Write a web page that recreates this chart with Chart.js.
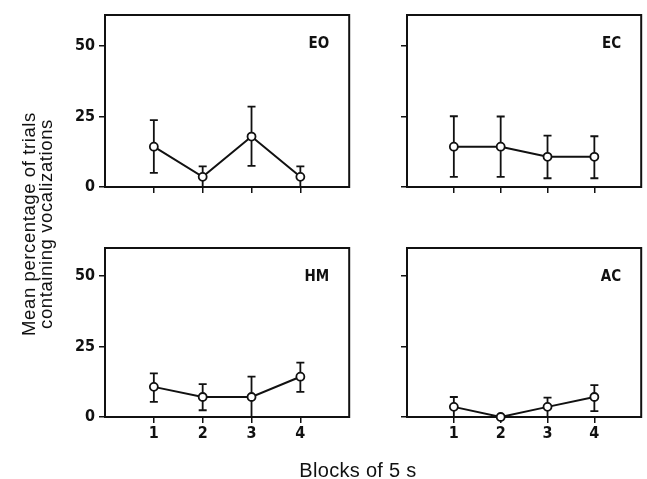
<!DOCTYPE html>
<html>
<head>
<meta charset="utf-8">
<script src="https://cdn.jsdelivr.net/npm/chart.js@4.4.0/dist/chart.umd.min.js"></script>
<style>
  body { margin: 0; background: #fff; }
  #wrap { position: relative; width: 647px; height: 479px; overflow: hidden; }
  canvas { position: absolute; }
  .ytitle {
    position: absolute; left: 37px; top: 224px; width: 300px;
    transform: translate(-50%, -50%) rotate(-90deg);
    font: 18.5px "Liberation Sans", Arial, sans-serif; line-height: 17px;
    letter-spacing: 0.6px; text-align: center; color: #111;
  }
  .xtitle {
    position: absolute; left: 358px; top: 470px; transform: translate(-50%, -50%);
    font: 20px "Liberation Sans", Arial, sans-serif; letter-spacing: 0.3px;
    color: #111; white-space: nowrap;
  }
</style>
</head>
<body>
<div id="wrap">
  <canvas id="eo" width="300" height="210" style="left:55px;top:0px"></canvas>
  <canvas id="ec" width="292" height="210" style="left:355px;top:0px"></canvas>
  <canvas id="hm" width="300" height="230" style="left:55px;top:230px"></canvas>
  <canvas id="ac" width="292" height="230" style="left:355px;top:230px"></canvas>
  <div class="ytitle">Mean percentage of trials<br>containing vocalizations</div>
  <div class="xtitle">Blocks of 5 s</div>
</div>
<script>
const blocks = [1, 2, 3, 4];
const yTicks = [0, 25, 50];

// mean and error bar ends
const eoMean = [14.3, 3.6, 17.9, 3.6];
const eoHi = [23.7, 7.3, 28.5, 7.3];
const eoLo = [5.0, 0, 7.5, 0];

const ecMean = [14.3, 14.3, 10.7, 10.7];
const ecHi = [25.1, 25.0, 18.2, 18.0];
const ecLo = [3.6, 3.6, 3.1, 3.1];

const hmMean = [10.7, 7.1, 7.1, 14.3];
const hmHi = [15.5, 11.7, 14.3, 19.3];
const hmLo = [5.4, 2.4, 0, 8.9];

const acMean = [3.6, 0, 3.6, 7.1];
const acHi = [7.1, 0, 6.9, 11.3];
const acLo = [0, 0, 0, 2.1];

const ink = "#111";
const tickFont = "DejaVu Sans Condensed";

function panelPlugin(label, hi, lo) {
  return {
    id: "panel",
    beforeDatasetsDraw(chart) {
      const { ctx, chartArea: a, scales: { x, y } } = chart;
      ctx.save();
      ctx.strokeStyle = ink;
      ctx.lineWidth = 2;
      ctx.strokeRect(a.left, a.top, a.right - a.left, a.bottom - a.top);
      // error bars
      ctx.lineWidth = 1.8;
      blocks.forEach((b, i) => {
        if (hi[i] === lo[i]) return;
        const px = x.getPixelForValue(b);
        const pHi = y.getPixelForValue(hi[i]);
        const pLo = y.getPixelForValue(lo[i]);
        ctx.beginPath();
        ctx.moveTo(px, pHi); ctx.lineTo(px, pLo);
        ctx.moveTo(px - 4, pHi); ctx.lineTo(px + 4, pHi);
        if (lo[i] > 0) { ctx.moveTo(px - 4, pLo); ctx.lineTo(px + 4, pLo); }
        ctx.stroke();
      });
      ctx.fillStyle = ink;
      ctx.font = 'bold 15px "' + tickFont + '"';
      ctx.textAlign = "right";
      ctx.textBaseline = "middle";
      ctx.fillText(label, a.right - 20, a.top + 29);
      ctx.restore();
    }
  };
}

function makePanel(id, label, means, hi, lo, opt) {
  new Chart(document.getElementById(id), {
    type: "line",
    data: {
      datasets: [{
        data: blocks.map((b, i) => ({ x: b, y: means[i] })),
        borderColor: ink,
        borderWidth: 2,
        pointRadius: 4,
        pointBorderWidth: 1.8,
        pointBackgroundColor: "#fff",
        pointBorderColor: ink,
        tension: 0,
        clip: false
      }]
    },
    options: {
      responsive: false,
      animation: false,
      layout: { padding: { top: opt.top, right: opt.right, left: 0, bottom: 0 } },
      plugins: { legend: { display: false }, tooltip: { enabled: false } },
      scales: {
        x: {
          type: "linear", min: 0, max: 5,
          afterBuildTicks: s => { s.ticks = blocks.map(v => ({ value: v })); },
          afterFit: s => { s.height = opt.xh; },
          grid: { drawOnChartArea: false, drawTicks: true, tickLength: 6, color: ink, lineWidth: 1.5 },
          border: { display: true, color: ink, width: 2 },
          ticks: {
            color: ink, padding: 1,
            font: { family: tickFont, size: 16, weight: 600 },
            callback: v => opt.xLabels ? String(v) : ""
          }
        },
        y: {
          min: 0, max: opt.ymax,
          afterBuildTicks: s => { s.ticks = yTicks.map(v => ({ value: v })); },
          afterFit: s => { s.width = opt.yw; },
          grid: { drawOnChartArea: false, drawTicks: true, tickLength: 6, color: ink, lineWidth: 1.5 },
          border: { display: true, color: ink, width: 2 },
          ticks: {
            color: ink, padding: 4,
            font: { family: tickFont, size: 16, weight: "bold" },
            callback: v => opt.yLabels ? String(v) : ""
          }
        }
      }
    },
    plugins: [panelPlugin(label, hi, lo)]
  });
}

makePanel("eo", "EO", eoMean, eoHi, eoLo, { top: 15, right: 5, xh: 23, yw: 50, ymax: 61, xLabels: false, yLabels: true });
makePanel("ec", "EC", ecMean, ecHi, ecLo, { top: 15, right: 0, xh: 23, yw: 52, ymax: 61, xLabels: false, yLabels: false });
makePanel("hm", "HM", hmMean, hmHi, hmLo, { top: 18, right: 5, xh: 43, yw: 50, ymax: 60, xLabels: true, yLabels: true });
makePanel("ac", "AC", acMean, acHi, acLo, { top: 18, right: 0, xh: 43, yw: 52, ymax: 60, xLabels: true, yLabels: false });
</script>
</body>
</html>
